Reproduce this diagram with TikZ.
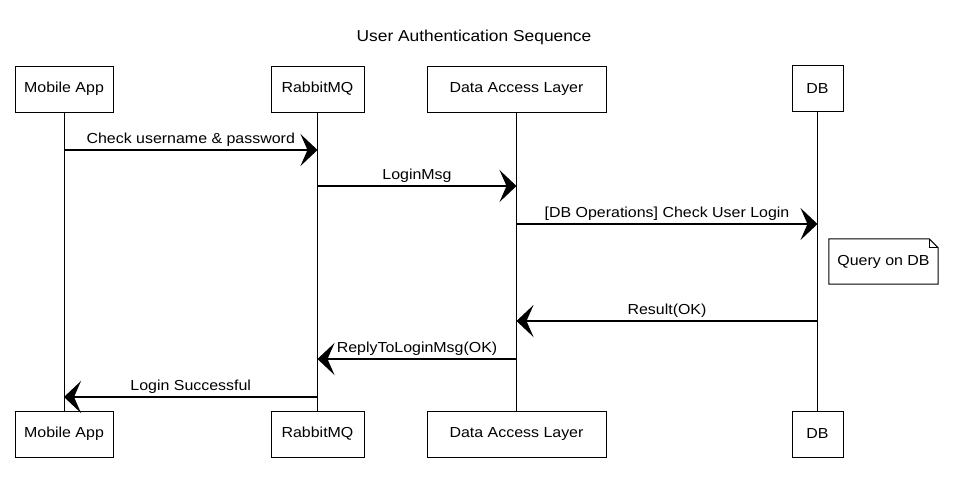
\documentclass[tikz,border=0pt]{standalone}
\usepackage{fontspec}
\setmainfont[FakeStretch=1.1]{Liberation Sans}
\usetikzlibrary{arrows.meta}
\begin{document}
\begin{tikzpicture}[x=1pt,y=-1pt,
  actor/.style={draw, line width=1pt, minimum height=46pt, inner sep=0pt, font=\fontsize{14.5}{16}\selectfont},
  msg/.style={line width=1.1pt, -{Stealth[length=17pt,width=32pt,inset=7pt]}},
  lbl/.style={font=\fontsize{14.5}{16}\selectfont, above, inner sep=3pt},
  life/.style={line width=0.8pt}]
\path[use as bounding box] (0,0) rectangle (957,488);
\node[font=\fontsize{15.8}{18}\selectfont] (title) at (474,37) {User Authentication Sequence};
% top actors
\node[actor, minimum width=98pt] (ma1) at (64,89) {Mobile App};
\node[actor, minimum width=93pt] (rb1) at (317.5,89) {RabbitMQ};
\node[actor, minimum width=179pt] (dal1) at (516.5,89) {Data Access Layer};
\node[actor, minimum width=51pt] (db1) at (817.5,88.5) {DB};
% bottom actors
\node[actor, minimum width=98pt] (ma2) at (64,434) {Mobile App};
\node[actor, minimum width=93pt] (rb2) at (317.5,434) {RabbitMQ};
\node[actor, minimum width=179pt] (dal2) at (516.5,434) {Data Access Layer};
\node[actor, minimum width=51pt] (db2) at (817.5,434) {DB};
% lifelines
\draw[life] (ma1.south) -- (ma2.north);
\draw[life] (rb1.south) -- (rb2.north);
\draw[life] (dal1.south) -- (dal2.north);
\draw[life] (db1.south) -- (db2.north);
% message points
\coordinate (m1a) at (ma1.south |- 0,150);
\coordinate (m1b) at (rb1.south |- 0,150);
\coordinate (m2a) at (rb1.south |- 0,186);
\coordinate (m2b) at (dal1.south |- 0,186);
\coordinate (m3a) at (dal1.south |- 0,224);
\coordinate (m3b) at (db1.south |- 0,224);
\coordinate (m4a) at (db1.south |- 0,321);
\coordinate (m4b) at (dal1.south |- 0,321);
\coordinate (m5a) at (dal1.south |- 0,359);
\coordinate (m5b) at (rb1.south |- 0,359);
\coordinate (m6a) at (rb1.south |- 0,397);
\coordinate (m6b) at (ma1.south |- 0,397);
% messages
\draw[msg] (m1a) -- node[lbl] {Check username \& password} (m1b);
\draw[msg] (m2a) -- node[lbl] {LoginMsg} (m2b);
\draw[msg] (m3a) -- node[lbl] {[DB Operations] Check User Login} (m3b);
\draw[msg] (m4a) -- node[lbl] {Result(OK)} (m4b);
\draw[msg] (m5a) -- node[lbl] {ReplyToLoginMsg(OK)} (m5b);
\draw[msg] (m6a) -- node[lbl] {Login Successful} (m6b);
% note
\node[minimum width=109pt, minimum height=45pt, inner sep=0pt, font=\fontsize{14.5}{16}\selectfont] (note) at (883.5,261.5) {Query on DB};
\draw[line width=1pt] (note.north west) -- ([xshift=-9pt]note.north east) -- ([yshift=-9pt]note.north east) -- (note.south east) -- (note.south west) -- cycle;
\draw[line width=0.8pt] ([xshift=-9pt]note.north east) -- ([xshift=-9pt,yshift=-9pt]note.north east) -- ([yshift=-9pt]note.north east);
\end{tikzpicture}
\end{document}
